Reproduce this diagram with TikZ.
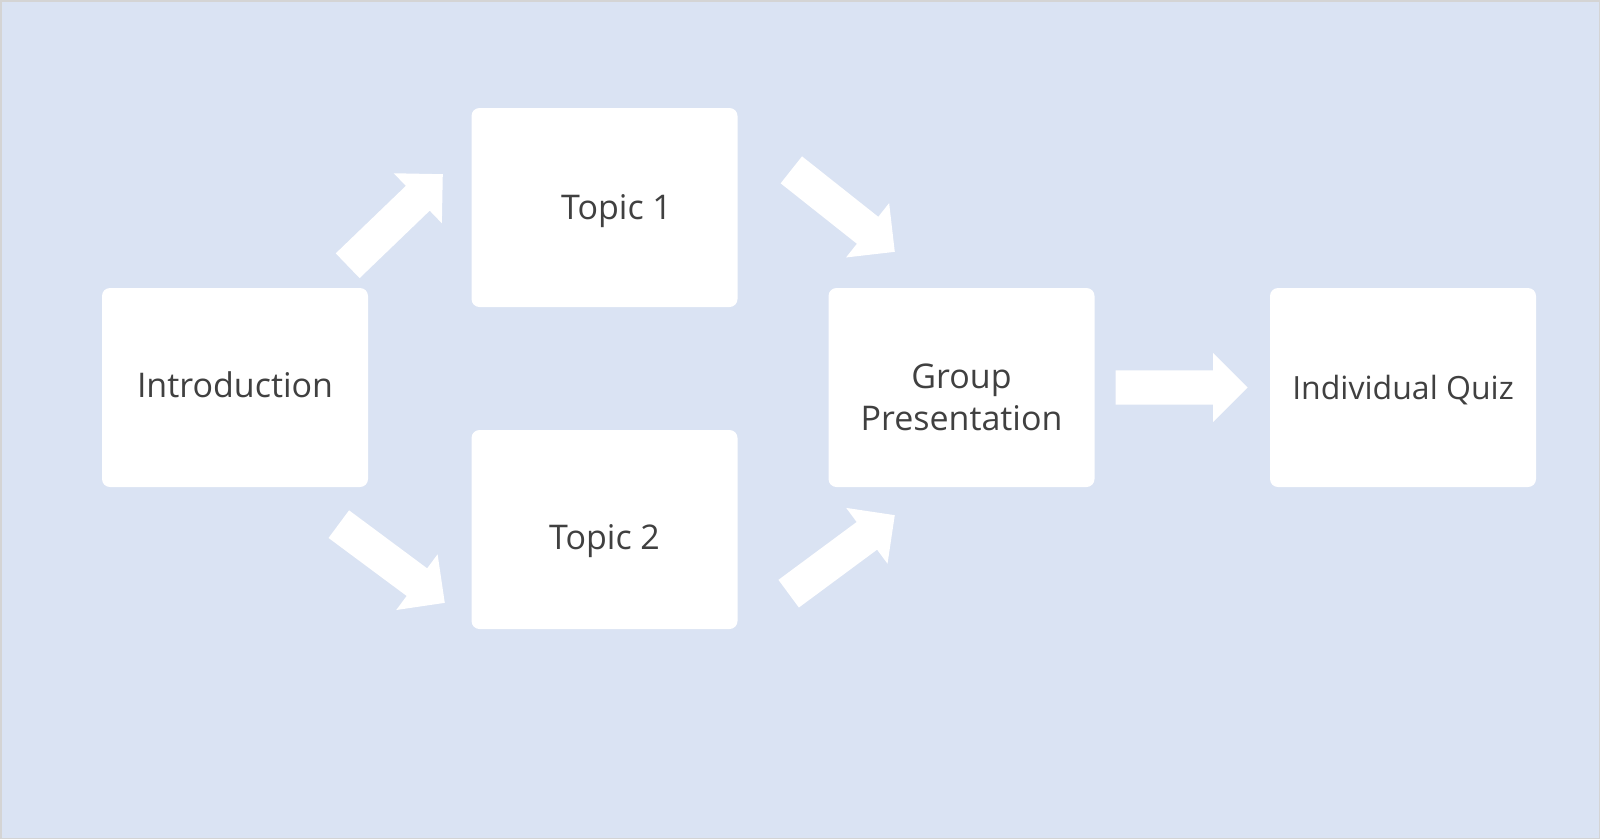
\documentclass[tikz,border=0pt]{standalone}
\usepackage{fontspec}
\setmainfont{Open Sans}
\usetikzlibrary{shapes.arrows}
\definecolor{bgblue}{HTML}{DAE3F3}
\definecolor{txtgray}{HTML}{404040}
\definecolor{edgegray}{HTML}{D4D4D4}
\tikzset{
  stepbox/.style={fill=white, draw=none, rounded corners=8pt, minimum width=266pt, minimum height=199pt,
    inner sep=0pt},
  steptext/.style={inner sep=0pt, align=center, text=txtgray, font=\fontsize{34}{42}\selectfont},
  blockarrow/.style={single arrow, fill=white, draw=none, inner xsep=0pt, inner ysep=17pt,
    minimum height=132pt, single arrow head extend=17.5pt, single arrow tip angle=90,
    single arrow head indent=0pt, anchor=tip}
}
\begin{document}
\begin{tikzpicture}[x=1pt,y=-1pt]
\path[fill=bgblue, draw=edgegray, line width=1.5pt] (0.75,0.75) rectangle (1599.25,838.25);
\useasboundingbox (0,0) rectangle (1600,839);
\node[stepbox] (intro) at (235,387.5) {};
\node[stepbox] (t1) at (604.5,207.5) {};
\node[stepbox] (t2) at (604.5,529.5) {};
\node[stepbox] (grp) at (961.5,387.5) {};
\node[stepbox] (quiz) at (1403,387.5) {};
\node[steptext] (introtxt) at ([yshift=3pt]intro.center) {Introduction};
\node[steptext] (t1txt) at ([xshift=12pt,yshift=-4pt]t1.center) {Topic 1};
\node[steptext] (t2txt) at ([yshift=-12pt]t2.center) {Topic 2};
\node[steptext] (grptxt) at ([yshift=-10pt]grp.center) {Group\\Presentation};
\node[steptext, font=\fontsize{32}{42}\selectfont] (quiztxt) at ([yshift=-3pt]quiz.center) {Individual Quiz};
\node[blockarrow, rotate=43.9] (a1) at (443,174) {};
\node[blockarrow, rotate=-38.4] (a2) at (895,252) {};
\node[blockarrow, rotate=-36.6] (a3) at (445,603) {};
\node[blockarrow, rotate=36.5] (a4) at (895,515) {};
\node[blockarrow] (a5) at (1248,387.5) {};
\end{tikzpicture}
\end{document}
